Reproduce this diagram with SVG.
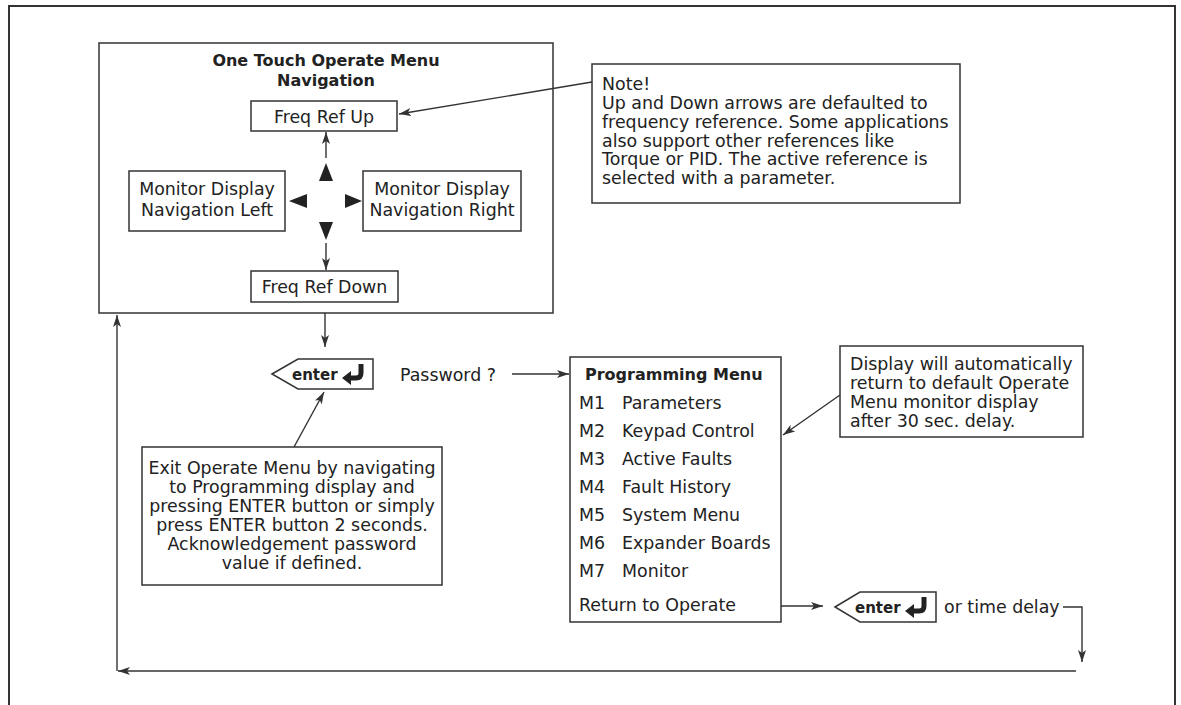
<svg xmlns="http://www.w3.org/2000/svg" width="1181" height="705" viewBox="0 0 1181 705">
<style>
.bx{fill:#fff;stroke:#333;stroke-width:1.5}
.t{font-family:"DejaVu Sans","Liberation Sans",sans-serif;font-size:17.4px;fill:#222}
.c{text-anchor:middle}
.b{font-weight:bold;font-size:16px}
.k{font-family:"DejaVu Sans","Liberation Sans",sans-serif;font-weight:bold;font-size:15px;fill:#222}
.ln{fill:none;stroke:#333;stroke-width:1.4}
.ar{marker-end:url(#ah)}
.tri{fill:#222}
</style>
<defs>
<marker id="ah" viewBox="0 0 12 8" refX="12" refY="4" markerWidth="12" markerHeight="8" orient="auto" markerUnits="userSpaceOnUse">
<path d="M0,0 L12,4 L0,8 L3,4 z" fill="#333"/>
</marker>
</defs>
<rect width="1181" height="705" fill="#fff"/>
<path d="M9,705 V6 H1175 V705" fill="none" stroke="#333" stroke-width="2"/>

<g id="operate-menu">
<rect class="bx" x="99" y="43" width="454" height="270"/>
<text class="t c b" x="326" y="66">One Touch Operate Menu</text>
<text class="t c b" x="326" y="86">Navigation</text>
</g>
<g id="freq-up">
<rect class="bx" x="251" y="101" width="146" height="30"/>
<text class="t c" x="324" y="123">Freq Ref Up</text>
</g>
<g id="nav-left">
<rect class="bx" x="129" y="171" width="156" height="60"/>
<text class="t c" x="207" y="195">Monitor Display</text>
<text class="t c" x="207" y="216">Navigation Left</text>
</g>
<g id="nav-right">
<rect class="bx" x="363" y="171" width="158" height="60"/>
<text class="t c" x="442" y="195">Monitor Display</text>
<text class="t c" x="442" y="216">Navigation Right</text>
</g>
<g id="freq-down">
<rect class="bx" x="251" y="271" width="147" height="31"/>
<text class="t c" x="324.5" y="293">Freq Ref Down</text>
</g>
<g id="keypad-arrows">
<polygon class="tri" points="326,163 319,181 333,181"/>
<polygon class="tri" points="326,240 319,222 333,222"/>
<polygon class="tri" points="289,201 307,194 307,208"/>
<polygon class="tri" points="362,201 345,194 345,208"/>
</g>
<g id="note">
<rect class="bx" x="592" y="64" width="368" height="139"/>
<text class="t" x="602" y="90">Note!</text>
<text class="t" x="602" y="109">Up and Down arrows are defaulted to</text>
<text class="t" x="602" y="128">frequency reference. Some applications</text>
<text class="t" x="602" y="147">also support other references like</text>
<text class="t" x="602" y="165">Torque or PID. The active reference is</text>
<text class="t" x="602" y="184">selected with a parameter.</text>
</g>
<g id="enter1">
<path class="bx" d="M272,374 L298,359 H373 V389 H298 Z"/>
<text class="k" x="292" y="380">enter</text>
<path d="M361,364 V373 Q361,378 356,378 H350" fill="none" stroke="#222" stroke-width="5"/>
<polygon points="342,378 351,371 351,385" fill="#222"/>
</g>
<g id="password">
<text class="t" x="400" y="381">Password ?</text>
</g>
<g id="programming-menu">
<rect class="bx" x="570" y="357" width="211" height="265"/>
<text class="t b" x="585" y="380">Programming Menu</text>
<text class="t" x="579" y="409">M1</text><text class="t" x="622" y="409">Parameters</text>
<text class="t" x="579" y="437">M2</text><text class="t" x="622" y="437">Keypad Control</text>
<text class="t" x="579" y="465">M3</text><text class="t" x="622" y="465">Active Faults</text>
<text class="t" x="579" y="493">M4</text><text class="t" x="622" y="493">Fault History</text>
<text class="t" x="579" y="521">M5</text><text class="t" x="622" y="521">System Menu</text>
<text class="t" x="579" y="549">M6</text><text class="t" x="622" y="549">Expander Boards</text>
<text class="t" x="579" y="577">M7</text><text class="t" x="622" y="577">Monitor</text>
<text class="t" x="579" y="611">Return to Operate</text>
</g>
<g id="display-note">
<rect class="bx" x="840" y="346" width="243" height="91"/>
<text class="t" x="850" y="370">Display will automatically</text>
<text class="t" x="850" y="389">return to default Operate</text>
<text class="t" x="850" y="408">Menu monitor display</text>
<text class="t" x="850" y="427">after 30 sec. delay.</text>
</g>
<g id="exit-note">
<rect class="bx" x="142" y="447" width="300" height="138"/>
<text class="t c" x="292" y="474">Exit Operate Menu by navigating</text>
<text class="t c" x="292" y="493">to Programming display and</text>
<text class="t c" x="292" y="512">pressing ENTER button or simply</text>
<text class="t c" x="292" y="531">press ENTER button 2 seconds.</text>
<text class="t c" x="292" y="550">Acknowledgement password</text>
<text class="t c" x="292" y="569">value if defined.</text>
</g>
<g id="enter2">
<path class="bx" d="M835,607 L860,592 H936 V622 H860 Z"/>
<text class="k" x="855" y="613">enter</text>
<path d="M924,597 V606 Q924,611 919,611 H913" fill="none" stroke="#222" stroke-width="5"/>
<polygon points="905,611 914,604 914,618" fill="#222"/>
</g>
<g id="time-delay">
<text class="t" x="944" y="613">or time delay</text>
</g>

<g id="connectors">
<line class="ln ar" x1="592" y1="82" x2="399" y2="114"/>
<line class="ln ar" x1="326" y1="158" x2="326" y2="132"/>
<line class="ln ar" x1="326" y1="243" x2="326" y2="270"/>
<line class="ln ar" x1="325" y1="313" x2="325" y2="347"/>
<line class="ln ar" x1="512" y1="374" x2="569" y2="374"/>
<line class="ln ar" x1="840" y1="395" x2="783" y2="435"/>
<line class="ln ar" x1="294" y1="447" x2="324" y2="392"/>
<line class="ln ar" x1="781" y1="606" x2="823" y2="606"/>
<polyline class="ln ar" points="1063,607 1082,607 1082,662"/>
<line class="ln ar" x1="1076" y1="671" x2="118" y2="671"/>
<line class="ln ar" x1="117" y1="671" x2="117" y2="315"/>
</g>
</svg>
